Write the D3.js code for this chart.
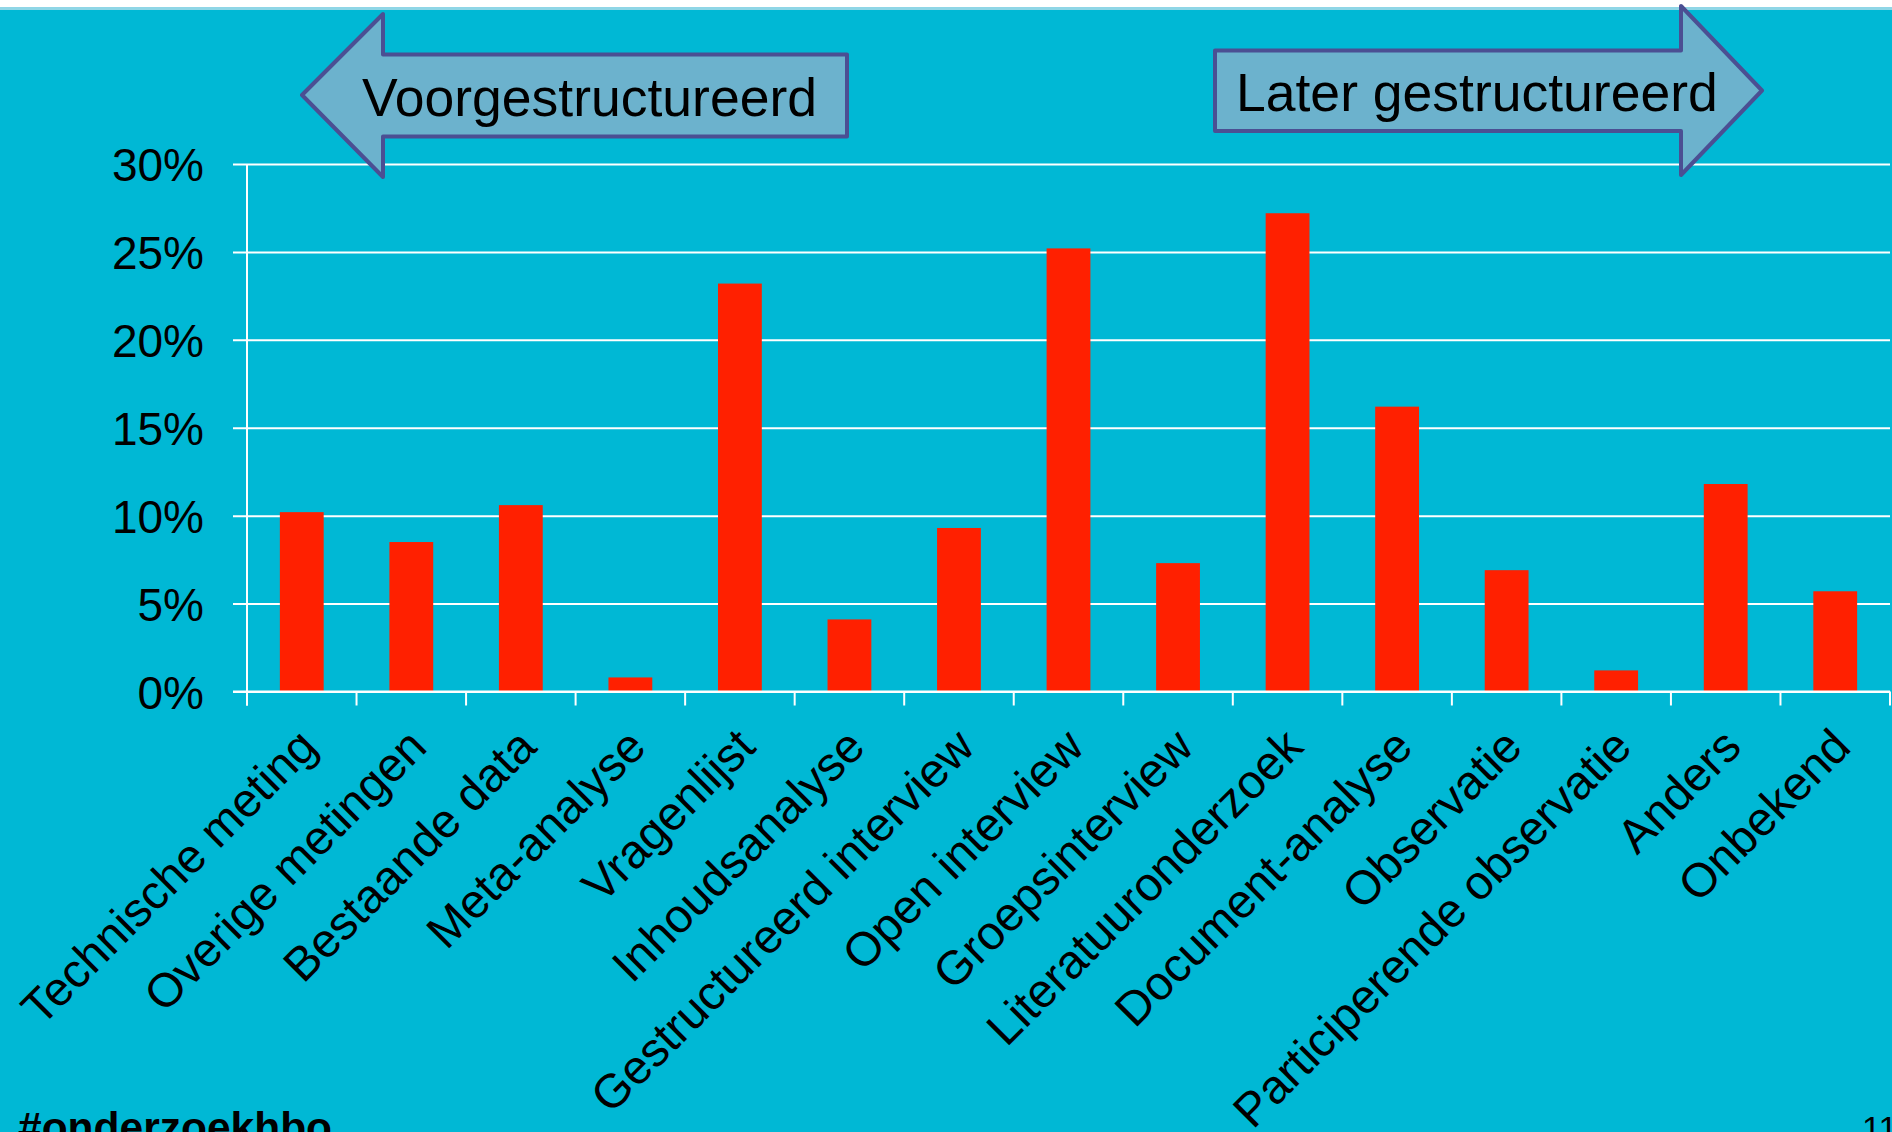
<!DOCTYPE html>
<html>
<head>
<meta charset="utf-8">
<script src="https://cdn.jsdelivr.net/npm/d3@7"></script>
<style>
  html, body { margin: 0; padding: 0; background: #00B8D5; overflow: hidden; }
  svg { display: block; }
  text { font-family: "Liberation Sans", Arial, sans-serif; }
</style>
</head>
<body>
<svg id="chart" width="1892" height="1132"></svg>
<script>
const categories = ["Technische meting","Overige metingen","Bestaande data","Meta-analyse","Vragenlijst","Inhoudsanalyse","Gestructureerd interview","Open interview","Groepsinterview","Literatuuronderzoek","Document-analyse","Observatie","Participerende observatie","Anders","Onbekend"];
const values = [10.2, 8.5, 10.6, 0.8, 23.2, 4.1, 9.3, 25.2, 7.3, 27.2, 16.2, 6.9, 1.2, 11.8, 5.7];
const yTicks = [0, 5, 10, 15, 20, 25, 30];
const arrowLabels = ["Voorgestructureerd", "Later gestructureerd"];
const footerTag = "#onderzoekhbo";
const pageNumber = "11";

const W = 1892, H = 1132;
const plot = { left: 247, right: 1890, top: 164, bottom: 691.5 };
const svg = d3.select("#chart");

svg.append("rect").attr("width", W).attr("height", H).attr("fill", "#00B8D5");
svg.append("rect").attr("width", W).attr("height", 7).attr("fill", "#ffffff");
svg.append("rect").attr("y", 7).attr("width", W).attr("height", 3).attr("fill", "#8fd6e6");

const x = d3.scaleBand().domain(categories).range([plot.left, plot.right]).paddingInner(0.6).paddingOuter(0.3);
const xStep = x.step();
const y = d3.scaleLinear().domain([0, 30]).range([plot.bottom, plot.top]);

// gridlines
const gy = svg.append("g").attr("transform", `translate(${plot.right},0)`);
gy.call(d3.axisLeft(y).tickValues(yTicks).tickSize(plot.right - plot.left + 14).tickFormat(""));
gy.select(".domain").remove();
gy.selectAll(".tick line").attr("stroke", "#ffffff").attr("stroke-width", 2);

// y labels
const gl = svg.append("g").attr("transform", `translate(${plot.left - 14},0)`);
gl.call(d3.axisLeft(y).tickValues(yTicks).tickSize(0).tickPadding(29).tickFormat(d => d + "%"));
gl.select(".domain").remove();
gl.selectAll(".tick text").attr("font-size", 46).attr("fill", "#000").attr("font-family", '"Liberation Sans", Arial, sans-serif').attr("dy", "0.36em");

// y axis line
svg.append("line").attr("x1", plot.left).attr("x2", plot.left).attr("y1", plot.top).attr("y2", plot.bottom + 14)
  .attr("stroke", "#ffffff").attr("stroke-width", 2);

// bars
svg.append("g").selectAll("rect").data(values).join("rect")
  .attr("x", (d, i) => x(categories[i]))
  .attr("width", x.bandwidth())
  .attr("y", d => y(d))
  .attr("height", d => y(0) - y(d))
  .attr("fill", "#FF2000");

// x axis line and ticks
svg.append("line").attr("x1", plot.left - 14).attr("x2", plot.right).attr("y1", plot.bottom).attr("y2", plot.bottom)
  .attr("stroke", "#ffffff").attr("stroke-width", 2);
const tickXs = d3.range(categories.length + 1).map(i => plot.left + i * xStep);
svg.append("g").selectAll("line").data(tickXs).join("line")
  .attr("x1", d => d).attr("x2", d => d).attr("y1", plot.bottom).attr("y2", plot.bottom + 14)
  .attr("stroke", "#ffffff").attr("stroke-width", 2);

// x labels
svg.append("g").selectAll("text").data(categories).join("text")
  .attr("transform", d => `translate(${x(d) + x.bandwidth() / 2 + 6},${plot.bottom + 46}) rotate(-45)`)
  .attr("text-anchor", "end")
  .attr("dy", "0.35em")
  .attr("font-size", 47.5)
  .attr("fill", "#000")
  .text(d => d);

// arrows
const arrowFill = "#6CB2CD", arrowStroke = "#4B4F93";
const leftArrow = [[302, 95], [383, 14], [383, 54.5], [847, 54.5], [847, 136.5], [383, 136.5], [383, 177]];
const rightArrow = [[1762, 90.5], [1681, 6], [1681, 50.5], [1215, 50.5], [1215, 131], [1681, 131], [1681, 175]];
[leftArrow, rightArrow].forEach(pts => {
  svg.append("polygon").attr("points", pts.map(p => p.join(",")).join(" "))
    .attr("fill", arrowFill).attr("stroke", arrowStroke).attr("stroke-width", 4).attr("stroke-linejoin", "round");
});
svg.append("text").attr("x", 362).attr("y", 116).attr("font-size", 53.5).attr("fill", "#000").text(arrowLabels[0]);
svg.append("text").attr("x", 1236).attr("y", 111).attr("font-size", 53.5).attr("fill", "#000").text(arrowLabels[1]);

// footer
svg.append("text").attr("x", 18).attr("y", 1142).attr("font-size", 42.5).attr("font-weight", "bold").attr("fill", "#000").text(footerTag);
svg.append("text").attr("x", 1862).attr("y", 1140).attr("font-size", 34).attr("fill", "#000").text(pageNumber);
</script>
</body>
</html>
